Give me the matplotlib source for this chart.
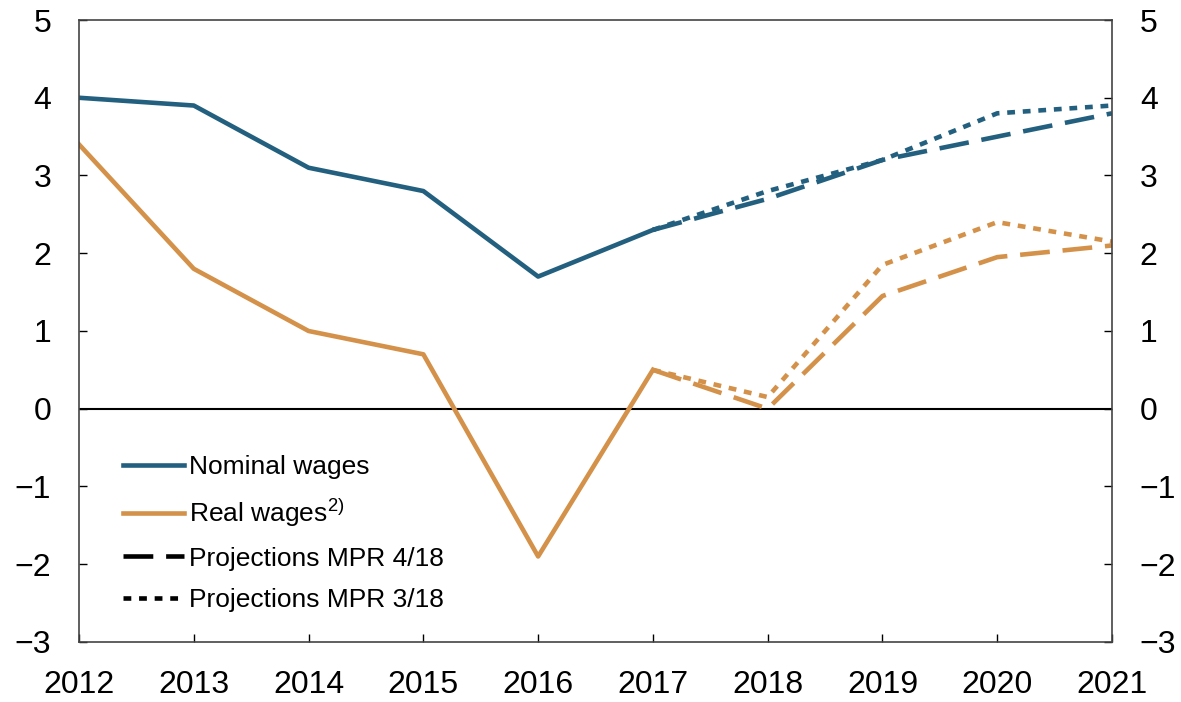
import matplotlib
matplotlib.use("Agg")
import matplotlib.pyplot as plt
import numpy as np

plt.rcParams['font.family'] = ['Liberation Sans', 'DejaVu Sans']
plt.rcParams['mathtext.fontset'] = 'custom'
plt.rcParams['mathtext.rm'] = 'Liberation Sans'

# history
years = [2012, 2013, 2014, 2015, 2016, 2017]
nominal = [4.0, 3.9, 3.1, 2.8, 1.7, 2.3]
real = [3.4, 1.8, 1.0, 0.7, -1.9, 0.5]

# projections
proj_years = [2017, 2018, 2019, 2020, 2021]
nominal_mpr4 = [2.3, 2.7, 3.2, 3.5, 3.8]
nominal_mpr3 = [2.3, 2.8, 3.2, 3.8, 3.9]
real_mpr4 = [0.5, 0.0, 1.45, 1.95, 2.1]
real_mpr3 = [0.5, 0.15, 1.85, 2.4, 2.15]

blue = '#23607f'
orange = '#d4914a'

def main():
    fig = plt.figure(figsize=(11.81, 7.02), dpi=100)
    ax = fig.add_axes([0.0669, 0.0855, 0.8747, 0.886])

    lw = 3.3
    dashed = (0, (6.5, 2.8))
    dotted = (0, (1.7, 1.7))

    ax.axhline(0, color='black', lw=1.5, zorder=1)

    ax.plot(proj_years, nominal_mpr3, color=blue, lw=lw, linestyle=dotted)
    ax.plot(proj_years, nominal_mpr4, color=blue, lw=lw, linestyle=dashed)
    ax.plot(proj_years, real_mpr3, color=orange, lw=lw, linestyle=dotted)
    ax.plot(proj_years, real_mpr4, color=orange, lw=lw, linestyle=dashed)
    h1, = ax.plot(years, nominal, color=blue, lw=lw, label='Nominal wages')
    h2, = ax.plot(years, real, color=orange, lw=lw, label='Real wages$^{2)}$')
    h3, = ax.plot([], [], color='black', lw=lw, linestyle=dashed, label='Projections MPR 4/18')
    h4, = ax.plot([], [], color='black', lw=lw, linestyle=dotted, label='Projections MPR 3/18')

    ax.set_xlim(2012, 2021)
    ax.set_ylim(-3, 5)
    ax.set_xticks(range(2012, 2022))
    ax.set_yticks(range(-3, 6))

    ax.tick_params(axis='both', direction='in', length=6, width=1, labelsize=23,
                   pad=20, right=True, labelright=True, top=False)
    for s in ax.spines.values():
        s.set_color('#444444')
        s.set_linewidth(1.2)

    ax.legend(handles=[h1, h2, h3, h4], loc='lower left',
              bbox_to_anchor=(0.0426, 0.048), frameon=False, fontsize=19,
              handlelength=2.3, handletextpad=0.2, labelspacing=0.66,
              borderaxespad=0, borderpad=0)

    fig.savefig('out.png', dpi=100)

if __name__ == '__main__':
    main()
